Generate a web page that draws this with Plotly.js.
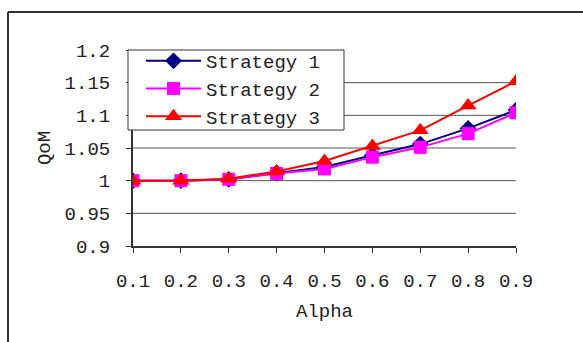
<!DOCTYPE html>
<html>
<head>
<meta charset="utf-8">
<script src="https://cdn.plot.ly/plotly-3.0.1.min.js"></script>
<style>
  html, body { margin: 0; padding: 0; background: #fff; }
  #chart { width: 583px; height: 342px; }
</style>
</head>
<body>
<div id="chart"></div>
<script>
// QoM for each strategy as alpha varies
const alpha = [0.1, 0.2, 0.3, 0.4, 0.5, 0.6, 0.7, 0.8, 0.9];
const alphaLabels = ["0.1", "0.2", "0.3", "0.4", "0.5", "0.6", "0.7", "0.8", "0.9"];
const strategy1 = [1.000, 1.000, 1.002, 1.012, 1.021, 1.039, 1.056, 1.080, 1.108];
const strategy2 = [1.000, 1.000, 1.002, 1.011, 1.018, 1.036, 1.051, 1.072, 1.104];
const strategy3 = [1.000, 1.000, 1.003, 1.014, 1.030, 1.053, 1.077, 1.115, 1.152];
const yTicks = [0.9, 0.95, 1, 1.05, 1.1, 1.15, 1.2];
const yTickLabels = ["0.9", "0.95", "1", "1.05", "1.1", "1.15", "1.2"];
const seriesNames = ["Strategy 1", "Strategy 2", "Strategy 3"];

const FONT = "Liberation Mono, DejaVu Sans Mono, monospace";
const INK = "#222";
const FRAME = "#333";

const traces = [
  { x: alpha, y: strategy1, name: seriesNames[0], mode: "lines+markers",
    line: { color: "#000080", width: 2 },
    marker: { symbol: "diamond", size: 13, color: "#000080" } },
  { x: alpha, y: strategy2, name: seriesNames[1], mode: "lines+markers",
    line: { color: "#FF00FF", width: 2 },
    marker: { symbol: "square", size: 13, color: "#FF00FF" } },
  { x: alpha, y: strategy3, name: seriesNames[2], mode: "lines+markers",
    line: { color: "#FF0000", width: 2 },
    marker: { symbol: "triangle-up", size: 15, color: "#FF0000" } }
];

// horizontal gridlines between the axis and the top tick
const gridShapes = yTicks.slice(1, -1).map(v => ({
  type: "line", xref: "paper", yref: "y", x0: 0, x1: 1, y0: v, y1: v,
  layer: "below", line: { color: "#555", width: 1 }
}));

const layout = {
  width: 583, height: 342,
  margin: { l: 133, r: 67, t: 50, b: 96 },
  paper_bgcolor: "#fff", plot_bgcolor: "#fff",
  font: { family: FONT, size: 19, color: INK },
  showlegend: true,
  legend: {
    x: 0.0209, y: 1.0408, xanchor: "left", yanchor: "top",
    bgcolor: "rgba(0,0,0,0)", borderwidth: 0,
    font: { family: FONT, size: 19, color: INK },
    itemwidth: 55, tracegroupgap: 0
  },
  xaxis: {
    range: [0.1, 0.9], tickvals: alpha, ticktext: alphaLabels,
    showgrid: false, zeroline: false,
    showline: true, linecolor: FRAME, linewidth: 2,
    ticks: "outside", ticklen: 5, tickcolor: FRAME, tickwidth: 1,
    ticklabelstandoff: 11,
    title: { text: "Alpha", standoff: 12, font: { family: FONT, size: 19, color: INK } },
    automargin: true, fixedrange: true
  },
  yaxis: {
    range: [0.9, 1.2], tickvals: yTicks, ticktext: yTickLabels,
    showgrid: false, zeroline: false,
    showline: true, linecolor: FRAME, linewidth: 2,
    ticks: "outside", ticklen: 5, tickcolor: FRAME, tickwidth: 1,
    ticklabelstandoff: 12,
    title: { text: "QoM", standoff: 9, font: { family: FONT, size: 19, color: INK } },
    automargin: true, fixedrange: true
  },
  shapes: gridShapes.concat([
    // legend frame
    { type: "rect", xref: "paper", yref: "paper", x0: -0.01305, x1: 0.5509, y0: 0.5918, y1: 1.0,
      layer: "above", fillcolor: "#fff", line: { color: FRAME, width: 1 } },
    // outer frame (top and left edges)
    { type: "line", xref: "paper", yref: "paper", x0: -0.3264, x1: 1.2, y0: 1.1939, y1: 1.1939,
      line: { color: FRAME, width: 2 } },
    { type: "line", xref: "paper", yref: "paper", x0: -0.3264, x1: -0.3264, y0: 1.1939, y1: -0.6,
      line: { color: FRAME, width: 2 } }
  ])
};

Plotly.newPlot("chart", traces, layout, { displayModeBar: false, staticPlot: true });
</script>
</body>
</html>
